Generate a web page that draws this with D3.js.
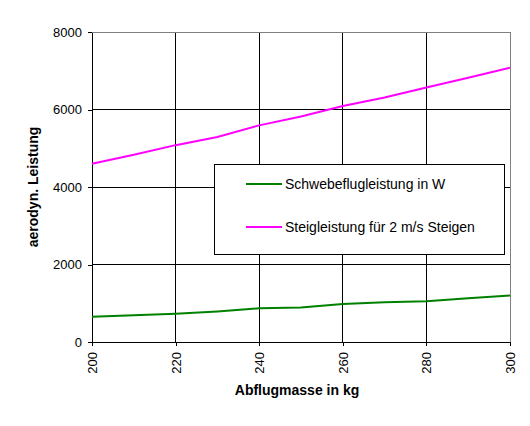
<!DOCTYPE html>
<html>
<head>
<meta charset="utf-8">
<script src="https://cdn.jsdelivr.net/npm/d3@7"></script>
<style>
  body { margin: 0; background: #fff; }
  svg { display: block; font-family: "Liberation Sans", Arial, sans-serif; }
</style>
</head>
<body>
<svg id="chart"></svg>
<script>
// masses in kg
const mass = [200, 210, 220, 230, 240, 250, 260, 270, 280, 290, 300];
// hover power in W
const hoverPower = [650, 690, 730, 790, 870, 890, 980, 1025, 1050, 1130, 1200];
// climb power for 2 m/s climb
const climbPower = [4600, 4830, 5080, 5290, 5590, 5820, 6090, 6310, 6570, 6820, 7080];

const xTicks = [200, 220, 240, 260, 280, 300];
const yTicks = [0, 2000, 4000, 6000, 8000];
const seriesNames = ["Schwebeflugleistung in W", "Steigleistung für 2 m/s Steigen"];
const seriesColors = ["#008000", "#ff00ff"];

const width = 530, height = 426;
const margin = { top: 32, right: 20, bottom: 84, left: 92 };

const svg = d3.select("#chart").attr("width", width).attr("height", height);

const x = d3.scaleLinear()
  .domain([200, 300])
  .range([margin.left, width - margin.right]);

const y = d3.scaleLinear()
  .domain([0, 8000])
  .range([height - margin.bottom, margin.top]);

// grid lines
svg.append("g")
  .selectAll("line.v")
  .data(xTicks.slice(1, -1))
  .enter().append("line")
  .attr("x1", d => x(d)).attr("x2", d => x(d))
  .attr("y1", y(0)).attr("y2", y(8000))
  .attr("stroke", "#000").attr("shape-rendering", "crispEdges");

svg.append("g")
  .selectAll("line.h")
  .data(yTicks.slice(1, -1))
  .enter().append("line")
  .attr("x1", x(200)).attr("x2", x(300))
  .attr("y1", d => y(d)).attr("y2", d => y(d))
  .attr("stroke", "#000").attr("shape-rendering", "crispEdges");

// gray frame on top and right
svg.append("path")
  .attr("d", `M${x(200)},${y(8000)}H${x(300)}V${y(0)}`)
  .attr("fill", "none").attr("stroke", "#808080")
  .attr("shape-rendering", "crispEdges");

// axes
const xAxis = svg.append("g")
  .attr("transform", `translate(0,${y(0)})`)
  .call(d3.axisBottom(x).tickValues(xTicks).tickFormat(d3.format("d"))
    .tickSize(4).tickPadding(6).tickSizeOuter(0));
xAxis.selectAll("text")
  .attr("transform", "rotate(-90)")
  .attr("x", -10).attr("y", 0).attr("dy", "0.35em")
  .style("text-anchor", "end");

const yAxis = svg.append("g")
  .attr("transform", `translate(${x(200)},0)`)
  .call(d3.axisLeft(y).tickValues(yTicks).tickFormat(d3.format("d"))
    .tickSize(4).tickPadding(6).tickSizeOuter(0));

svg.selectAll(".tick text")
  .attr("font-family", "Liberation Sans, Arial, sans-serif")
  .attr("font-size", 13).attr("fill", "#000");
svg.selectAll(".domain, .tick line")
  .attr("stroke", "#000").attr("shape-rendering", "crispEdges");

// lines
const line = d3.line()
  .x((d, i) => x(mass[i]))
  .y(d => y(d));

[hoverPower, climbPower].forEach((vals, k) => {
  svg.append("path")
    .datum(vals)
    .attr("d", line)
    .attr("fill", "none")
    .attr("stroke", seriesColors[k])
    .attr("stroke-width", 2);
});

// axis titles
svg.append("text")
  .attr("x", (x(200) + x(300)) / 2 - 4)
  .attr("y", 395)
  .attr("text-anchor", "middle")
  .attr("font-size", 14).attr("font-weight", "bold")
  .text("Abflugmasse in kg");

svg.append("text")
  .attr("transform", `translate(38,${(y(0) + y(8000)) / 2}) rotate(-90)`)
  .attr("text-anchor", "middle")
  .attr("font-size", 14).attr("font-weight", "bold")
  .text("aerodyn. Leistung");

// legend
const legend = svg.append("g").attr("transform", "translate(214,164)");
legend.append("rect")
  .attr("width", 290).attr("height", 90)
  .attr("fill", "#fff").attr("stroke", "#000")
  .attr("shape-rendering", "crispEdges");

seriesNames.forEach((name, k) => {
  const ly = 20 + k * 43;
  legend.append("line")
    .attr("x1", 32).attr("x2", 68)
    .attr("y1", ly).attr("y2", ly)
    .attr("stroke", seriesColors[k]).attr("stroke-width", 2);
  legend.append("text")
    .attr("x", 71).attr("y", ly).attr("dy", "0.35em")
    .attr("font-size", 14)
    .text(name);
});
</script>
</body>
</html>
